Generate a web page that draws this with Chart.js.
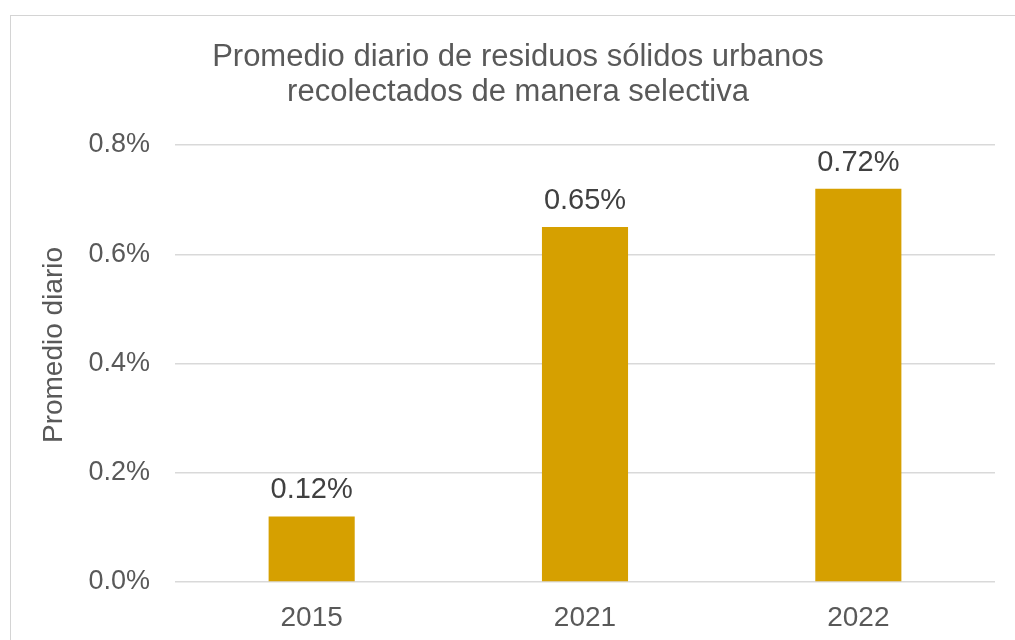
<!DOCTYPE html>
<html lang="es">
<head>
<meta charset="utf-8">
<title>Promedio diario de residuos sólidos urbanos</title>
<script src="https://cdn.jsdelivr.net/npm/chart.js@4.4.1/dist/chart.umd.min.js"></script>
<style>
    html, body { margin: 0; padding: 0; background: #fff; overflow: hidden; }
    #marco { position: absolute; left: 10px; top: 15px; width: 1100px; height: 700px; border: 1px solid #d4d4d4; }
    #grafico { position: absolute; left: 0; top: 0; }
</style>
</head>
<body>
<div id="marco"></div>
<canvas id="grafico" width="1015" height="640"></canvas>
<script>
const anios = ["2015", "2021", "2022"];
const promedios = [0.12, 0.65, 0.72];
const ticksY = [0, 0.2, 0.4, 0.6, 0.8];
const titulo = ["Promedio diario de residuos sólidos urbanos", "recolectados de manera selectiva"];
const tituloY = "Promedio diario";

const FUENTE = "'Liberation Sans', Arial, sans-serif";
const GRIS = "#595959";

// titulo principal y titulo del eje Y (un poco descentrados como en el original)
const titulos = {
    id: "titulos",
    afterDraw(chart) {
        const ctx = chart.ctx;
        ctx.save();
        ctx.fillStyle = GRIS;
        ctx.textAlign = "center";
        ctx.textBaseline = "middle";
        ctx.font = `31px ${FUENTE}`;
        titulo.forEach((linea, i) => ctx.fillText(linea, 518, 57 + i * 35));

        ctx.font = `28px ${FUENTE}`;
        ctx.translate(54, 345);
        ctx.rotate(-Math.PI / 2);
        ctx.fillText(tituloY, 0, 0);
        ctx.restore();
    }
};

// etiquetas de valor encima de cada barra
const etiquetasBarras = {
    id: "etiquetasBarras",
    afterDatasetsDraw(chart) {
        const ctx = chart.ctx;
        const meta = chart.getDatasetMeta(0);
        ctx.save();
        ctx.font = `29px ${FUENTE}`;
        ctx.fillStyle = "#404040";
        ctx.textAlign = "center";
        ctx.textBaseline = "alphabetic";
        meta.data.forEach((barra, i) => {
            ctx.fillText(promedios[i].toFixed(2) + "%", barra.x, barra.y - 18);
        });
        ctx.restore();
    }
};

new Chart(document.getElementById("grafico").getContext("2d"), {
    type: "bar",
    data: {
        labels: anios,
        datasets: [{
            data: promedios,
            backgroundColor: "#D6A000",
            categoryPercentage: 1,
            barPercentage: 0.315
        }]
    },
    options: {
        responsive: false,
        animation: false,
        layout: { padding: { left: 0, right: 20, top: 145, bottom: 0 } },
        plugins: {
            legend: { display: false },
            tooltip: { enabled: false },
            title: { display: false }
        },
        scales: {
            x: {
                grid: { display: false, drawTicks: false },
                border: { display: false },
                ticks: { color: GRIS, font: { family: FUENTE, size: 28 }, padding: 19 },
                afterFit: s => { s.height = 58; }
            },
            y: {
                min: 0,
                max: 0.8,
                afterBuildTicks: s => { s.ticks = ticksY.map(v => ({ value: v })); },
                grid: { color: "#d9d9d9", lineWidth: 1.5, drawTicks: false },
                border: { display: false },
                ticks: {
                    color: GRIS,
                    font: { family: FUENTE, size: 27 },
                    padding: 25,
                    callback: v => v.toFixed(1) + "%"
                },
                afterFit: s => { s.width = 175; }
            }
        }
    },
    plugins: [etiquetasBarras, titulos]
});
</script>
</body>
</html>
